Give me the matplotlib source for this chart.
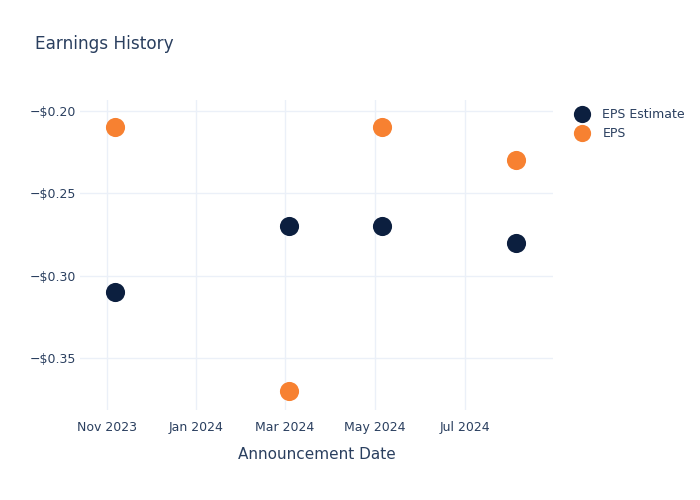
import numpy as np
import pandas as pd
import matplotlib
matplotlib.use("Agg")
import matplotlib.pyplot as plt
import matplotlib.dates as mdates
from matplotlib.ticker import FuncFormatter

dates = pd.to_datetime(["2023-11-07", "2024-03-04", "2024-05-06", "2024-08-05"])
eps_estimate = [-0.31, -0.27, -0.27, -0.28]
eps_actual = [-0.21, -0.37, -0.21, -0.23]

navy = "#0c1f3f"
orange = "#f78131"
text_col = "#2a3f5f"
grid_col = "#ebf0f8"

fig = plt.figure(figsize=(7, 5), dpi=100)
ax = fig.add_axes([80 / 700, 0.18, 473 / 700, 0.62])

ax.scatter(dates, eps_estimate, s=190, color=navy, label="EPS Estimate", zorder=3, linewidths=0)
ax.scatter(dates, eps_actual, s=190, color=orange, label="EPS", zorder=3, linewidths=0)

ax.set_xlim(pd.Timestamp("2023-10-14"), pd.Timestamp("2024-08-30"))
ax.set_ylim(-0.3817, -0.1933)
ax.set_yticks([-0.20, -0.25, -0.30, -0.35])
ax.yaxis.set_major_formatter(FuncFormatter(lambda v, p: "\u2212$%.2f" % abs(v)))
ax.xaxis.set_major_locator(mdates.MonthLocator(bymonth=[1, 3, 5, 7, 11]))
ax.xaxis.set_major_formatter(mdates.DateFormatter("%b %Y"))

ax.grid(True, color=grid_col, linewidth=1)
ax.set_axisbelow(True)
for s in ax.spines.values():
    s.set_visible(False)
ax.tick_params(length=0, labelsize=9, colors=text_col)
ax.tick_params(axis="x", pad=8)
ax.tick_params(axis="y", pad=3)

ax.set_xlabel("Announcement Date", fontsize=11, color=text_col, labelpad=9)
fig.text(0.05, 0.912, "Earnings History", fontsize=12.2, color=text_col, va="center")

leg = ax.legend(loc="upper left", bbox_to_anchor=(1.02, 1.0), frameon=False,
                fontsize=9, labelcolor=text_col, handletextpad=0.6,
                markerscale=0.9, borderaxespad=0.2)

fig.savefig("out.png", dpi=100)
